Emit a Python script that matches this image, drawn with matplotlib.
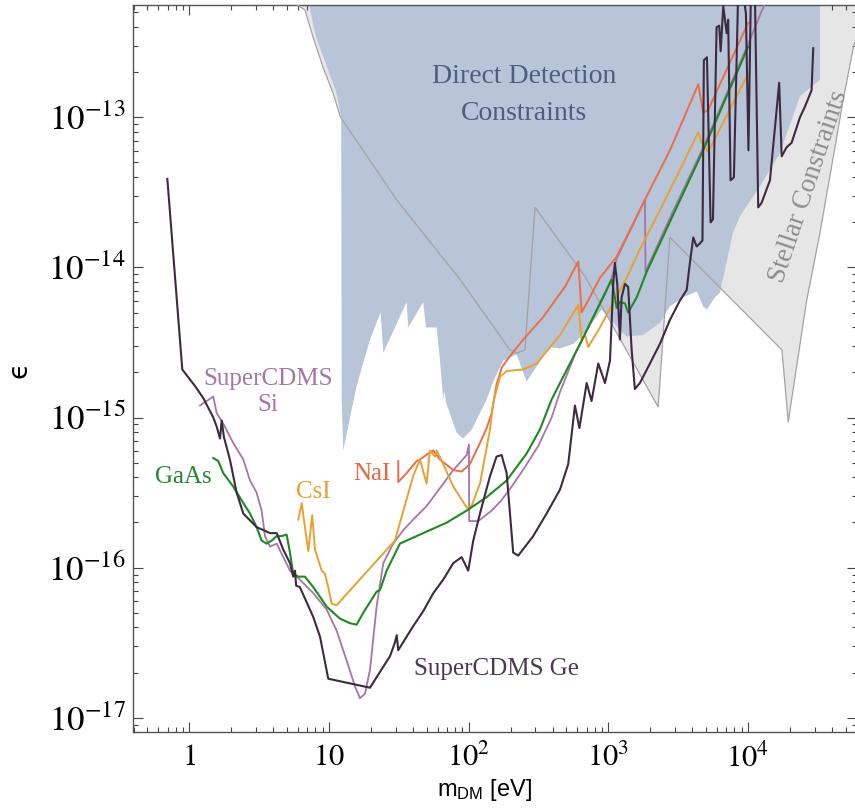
import numpy as np
import matplotlib
matplotlib.use("Agg")
import matplotlib.pyplot as plt
from matplotlib.ticker import FixedLocator, LogLocator, NullFormatter

plt.rcParams["mathtext.fontset"] = "stix"
plt.rcParams["font.family"] = ["Liberation Serif", "DejaVu Serif"]

# all values as (log10 m_DM [eV], log10 epsilon)
ge_pts = [(-0.157, -13.41), (-0.05, -14.68), (0.041, -14.79), (0.10, -14.87), (0.172, -15.00),
          (0.196, -15.06), (0.22, -15.14), (0.232, -15.02), (0.248, -15.13), (0.291, -15.28),
          (0.339, -15.50), (0.387, -15.64), (0.482, -15.73), (0.578, -15.77), (0.626, -15.77),
          (0.673, -15.88), (0.721, -15.97), (0.744, -16.06), (0.757, -16.02), (0.765, -16.12),
          (0.792, -16.13), (0.888, -16.33), (0.936, -16.46), (0.995, -16.74), (1.294, -16.80),
          (1.341, -16.73), (1.389, -16.66), (1.437, -16.59), (1.472, -16.50), (1.485, -16.45),
          (1.496, -16.55), (1.556, -16.46), (1.603, -16.39), (1.675, -16.29), (1.747, -16.17),
          (1.818, -16.08), (1.890, -15.97), (1.950, -15.93), (1.997, -16.02), (2.033, -15.82),
          (2.081, -15.64), (2.153, -15.39), (2.200, -15.26), (2.236, -15.25), (2.272, -15.37),
          (2.319, -15.90), (2.355, -15.92), (2.462, -15.79), (2.558, -15.64), (2.654, -15.48),
          (2.713, -15.31), (2.761, -14.92), (2.793, -15.07), (2.845, -14.77), (2.880, -14.89),
          (2.928, -14.64), (2.976, -14.77), (3.012, -14.62), (3.035, -14.11), (3.047, -13.97),
          (3.064, -14.11), (3.083, -14.48), (3.095, -14.20), (3.119, -14.11), (3.142, -14.13),
          (3.167, -14.55), (3.190, -14.81), (3.226, -14.77), (3.298, -14.64), (3.369, -14.51),
          (3.441, -14.35), (3.513, -14.22), (3.561, -14.15), (3.584, -13.97), (3.608, -13.80),
          (3.632, -13.86), (3.656, -13.84), (3.674, -13.82), (3.684, -12.62), (3.706, -12.60),
          (3.732, -13.70), (3.749, -13.68), (3.775, -12.40), (3.794, -12.39), (3.804, -12.56),
          (3.823, -12.26), (3.847, -12.44), (3.858, -12.35), (3.875, -13.42), (3.899, -13.40),
          (3.930, -12.15), (3.963, -12.15), (3.985, -12.31), (4.003, -13.22), (4.021, -12.15),
          (4.049, -12.15), (4.073, -13.60), (4.097, -13.57), (4.157, -13.42), (4.205, -12.95),
          (4.223, -12.77), (4.241, -13.26), (4.276, -13.20), (4.312, -13.17), (4.372, -13.00),
          (4.407, -12.93), (4.455, -12.82), (4.467, -12.54)]

si_pts = [(0.077, -14.92), (0.172, -14.86), (0.196, -14.97), (0.243, -15.04), (0.315, -15.17),
          (0.387, -15.28), (0.435, -15.42), (0.482, -15.50), (0.518, -15.62), (0.542, -15.79),
          (0.578, -15.86), (0.626, -15.84), (0.673, -15.93), (0.721, -16.02), (0.769, -16.06),
          (0.792, -16.08), (0.888, -16.17), (0.984, -16.28), (1.055, -16.42), (1.127, -16.62),
          (1.186, -16.79), (1.222, -16.87), (1.258, -16.84), (1.294, -16.68), (1.341, -16.26),
          (1.389, -15.97), (1.460, -15.84), (1.532, -15.75), (1.603, -15.68), (1.699, -15.59),
          (1.795, -15.47), (1.890, -15.35), (1.986, -15.25), (2.002, -15.18), (2.004, -15.69),
          (2.069, -15.69), (2.165, -15.62), (2.236, -15.55), (2.308, -15.46), (2.403, -15.33),
          (2.498, -15.19), (2.594, -15.00), (2.654, -14.83), (2.761, -14.58), (2.868, -14.38),
          (2.976, -14.18), (3.024, -14.07), (3.060, -13.94), (3.262, -13.55), (3.266, -14.03),
          (3.441, -13.67), (3.680, -13.20), (4.002, -12.51), (4.121, -12.24), (4.157, -12.15)]

gaas_pts = [(0.172, -15.27), (0.208, -15.29), (0.243, -15.37), (0.315, -15.46), (0.387, -15.57),
            (0.435, -15.64), (0.482, -15.73), (0.518, -15.82), (0.554, -15.84), (0.590, -15.82),
            (0.626, -15.79), (0.661, -15.79), (0.697, -15.78), (0.721, -15.90), (0.744, -16.04),
            (0.780, -16.06), (0.828, -16.06), (0.888, -16.13), (0.984, -16.26), (1.079, -16.34),
            (1.150, -16.37), (1.198, -16.38), (1.246, -16.30), (1.341, -16.16), (1.365, -16.15),
            (1.413, -16.02), (1.508, -15.84), (1.603, -15.80), (1.675, -15.77), (1.843, -15.70),
            (1.986, -15.62), (2.129, -15.53), (2.272, -15.42), (2.415, -15.24), (2.510, -15.08),
            (2.594, -14.88), (2.654, -14.77), (2.797, -14.51), (3.024, -14.08), (3.060, -14.27),
            (3.083, -14.23), (3.119, -14.24), (3.142, -14.30), (3.203, -14.20), (3.274, -14.03),
            (3.679, -13.22), (4.001, -12.53)]

csi_pts = [(0.780, -15.68), (0.805, -15.57), (0.828, -15.73), (0.852, -15.89), (0.880, -15.65),
           (0.900, -15.88), (0.948, -16.02), (0.971, -16.04), (0.995, -16.13), (1.019, -16.24),
           (1.055, -16.25), (1.472, -15.82), (1.603, -15.39), (1.651, -15.28), (1.699, -15.44),
           (1.723, -15.22), (1.759, -15.26), (1.771, -15.22), (1.818, -15.31), (1.890, -15.46),
           (1.986, -15.60), (2.021, -15.59), (2.081, -15.44), (2.153, -15.08), (2.176, -14.90),
           (2.224, -14.73), (2.272, -14.69), (2.391, -14.68), (2.487, -14.64), (2.558, -14.56),
           (2.654, -14.45), (2.785, -14.25), (2.809, -14.48), (2.833, -14.45), (2.856, -14.53),
           (2.940, -14.40), (3.131, -14.07), (3.226, -13.88), (3.369, -13.62), (3.513, -13.35),
           (3.644, -13.10), (3.668, -13.17), (3.715, -13.23), (4.001, -12.71)]

nai_pts = [(1.496, -15.29), (1.496, -15.43), (1.556, -15.37), (1.628, -15.29), (1.651, -15.28),
           (1.711, -15.24), (1.747, -15.22), (1.795, -15.28), (1.890, -15.35), (1.950, -15.36),
           (2.009, -15.31), (2.081, -15.17), (2.129, -15.07), (2.165, -14.97), (2.200, -14.78),
           (2.236, -14.67), (2.272, -14.62), (2.331, -14.55), (2.391, -14.48), (2.534, -14.33),
           (2.689, -14.13), (2.785, -13.96), (2.809, -14.30), (2.856, -14.22), (2.940, -14.07),
           (3.059, -13.93), (3.262, -13.55), (3.441, -13.22), (3.644, -12.78), (3.679, -12.97),
           (3.715, -12.95), (4.001, -12.37)]

# direct detection region (closed polygon, top edge above the plot)
dd_pts = [(0.850, -12.09), (0.855, -12.24), (0.907, -12.465), (0.986, -12.665), (1.054, -12.838),
          (1.088, -13.00),
          (1.091, -14.86), (1.102, -15.22), (1.198, -14.79), (1.294, -14.48), (1.370, -14.30),
          (1.389, -14.57), (1.556, -14.23), (1.568, -14.40), (1.675, -14.23), (1.694, -14.40),
          (1.771, -14.40), (1.795, -14.62), (1.818, -14.88), (1.827, -14.82), (1.838, -14.90),
          (1.914, -15.10), (1.961, -15.14), (2.022, -15.08), (2.129, -14.88), (2.176, -14.76),
          (2.248, -14.62), (2.344, -14.58), (2.391, -14.70), (2.415, -14.76), (2.487, -14.66),
          (2.582, -14.53), (2.654, -14.54), (2.749, -14.51), (2.845, -14.42), (2.916, -14.33),
          (2.952, -14.28), (3.047, -14.38), (3.131, -14.46), (3.248, -14.45), (3.369, -14.37),
          (3.441, -14.26), (3.534, -14.20), (3.634, -14.16), (3.677, -14.26), (3.706, -14.28),
          (3.763, -14.20), (3.799, -14.17), (3.892, -13.77), (3.942, -13.66), (4.085, -13.46),
          (4.228, -13.24), (4.372, -12.86), (4.515, -12.75), (4.515, -12.09)]

# stellar constraints region
st_pts = [(0.720, -12.09), (0.757, -12.24), (0.828, -12.285), (0.886, -12.465), (0.957, -12.665),
          (1.029, -12.838), (1.083, -13.00), (1.485, -13.55), (1.938, -14.08), (2.296, -14.55),
          (2.344, -14.57), (2.403, -14.55), (2.475, -13.60), (2.833, -14.06), (3.357, -14.93),
          (3.441, -13.80), (4.243, -14.55), (4.288, -15.03), (4.348, -14.66), (4.420, -14.22),
          (4.515, -13.77), (4.598, -13.33), (4.682, -12.88), (4.751, -12.55), (4.815, -12.32),
          (4.873, -12.09)]

x_ticks = [1, 10, 1e2, 1e3, 1e4]
x_labels = ["$1$", "$10$", "$10^2$", "$10^3$", "$10^4$"]
y_ticks = [1e-17, 1e-16, 1e-15, 1e-14, 1e-13]
y_labels = ["$10^{-17}$", "$10^{-16}$", "$10^{-15}$", "$10^{-14}$", "$10^{-13}$"]


def xy(pts):
    a = np.array(pts)
    return 10 ** a[:, 0], 10 ** a[:, 1]


fig = plt.figure(figsize=(8.55, 8.09), dpi=100)
ax = fig.add_axes([0.1552, 0.0948, 0.8471, 0.899])
ax.set_xscale("log"); ax.set_yscale("log")

sx, sy = xy(st_pts)
ax.fill(sx, sy, color="#e6e6e6", lw=0, zorder=1)
dx, dy = xy(dd_pts)
ax.fill(dx, dy, color="#b8c4d8", lw=0, zorder=2)
ax.plot(sx[:-1], sy[:-1], color="#a3a3a3", lw=0.9, zorder=3)

ax.plot(*xy(si_pts), color="#a874a8", lw=1.3, zorder=4)
ax.plot(*xy(nai_pts), color="#ec6d47", lw=1.4, zorder=5)
ax.plot(*xy(csi_pts), color="#e8a131", lw=1.4, zorder=5)
ax.plot(*xy(gaas_pts), color="#1d8a22", lw=1.5, zorder=6)
ax.plot(*xy(ge_pts), color="#3e2a40", lw=1.5, zorder=7)

ax.set_xlim(10 ** -0.405, 10 ** 4.780)
ax.set_ylim(10 ** -17.097, 10 ** -12.252)

ax.xaxis.set_major_locator(FixedLocator(x_ticks))
ax.set_xticklabels(x_labels, fontsize=22)
ax.yaxis.set_major_locator(FixedLocator(y_ticks))
ax.set_yticklabels(y_labels, fontsize=25)
for a in (ax.xaxis, ax.yaxis):
    a.set_minor_locator(LogLocator(base=10, subs=np.arange(2, 10), numticks=20))
    a.set_minor_formatter(NullFormatter())
ax.tick_params(which="both", direction="in", top=True, right=True, color="#444444", width=0.8)
ax.tick_params(which="major", length=7)
ax.tick_params(which="minor", length=3.5)
ax.tick_params(axis="x", pad=8)
ax.tick_params(axis="y", pad=5)
for s in ax.spines.values():
    s.set_color("#555555"); s.set_linewidth(1.0)

# labels on the plot
ax.text(0.540, 0.876, "Direct Detection\nConstraints", transform=ax.transAxes, ha="center",
        va="center", fontsize=20, color="#4f5d80", linespacing=1.6, zorder=8)
ax.text(0.934, 0.750, "Stellar Constraints", transform=ax.transAxes, ha="center", va="center",
        fontsize=19.5, color="#8d8d8d", rotation=71.5, rotation_mode="anchor", zorder=8)
ax.text(0.187, 0.468, "SuperCDMS\nSi", transform=ax.transAxes, ha="center", va="center",
        fontsize=18, color="#a476a4", zorder=8)
ax.text(0.0699, 0.351, "GaAs", transform=ax.transAxes, ha="center", va="center",
        fontsize=18, color="#1f8a2a", zorder=8)
ax.text(0.250, 0.330, "CsI", transform=ax.transAxes, ha="center", va="center",
        fontsize=18, color="#e6a032", zorder=8)
ax.text(0.330, 0.355, "NaI", transform=ax.transAxes, ha="center", va="center",
        fontsize=18, color="#e8663f", zorder=8)
ax.text(0.502, 0.087, "SuperCDMS Ge", transform=ax.transAxes, ha="center", va="center",
        fontsize=18, color="#4b3a4e", zorder=8)

fig.text(485 / 855, 1 - 790 / 809, r"$\mathregular{m_{DM}}$ [eV]", ha="center", va="center",
         fontsize=17, family="Liberation Sans")
fig.text(19 / 855, 1 - 370 / 809, "ϵ", ha="center", va="center", rotation=90,
         fontsize=19, family="DejaVu Sans")

fig.savefig("out.png", dpi=100)
